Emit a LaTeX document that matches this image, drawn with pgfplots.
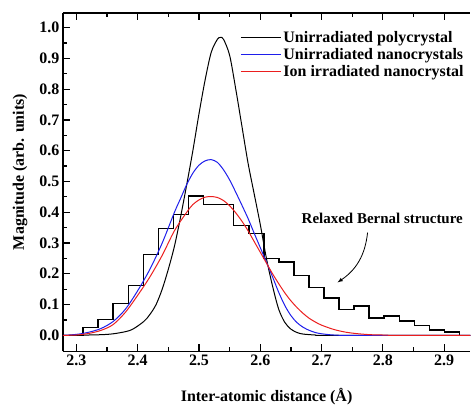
\documentclass[border=0pt]{standalone}
\usepackage{fontspec}
\setmainfont{Liberation Serif}
\usepackage{pgfplots}
\usepackage{pgfplotstable}
\pgfplotsset{compat=1.18}
\newcommand\lbl{\fontsize{16bp}{19bp}\selectfont\bfseries}
\definecolor{lred}{RGB}{235,30,30}
\definecolor{lblue}{RGB}{30,30,235}

% histogram: left bin edge, height
\pgfplotstableread{
x y
2.278 0
2.3110 0.025
2.3356 0.052
2.3601 0.104
2.3847 0.162
2.4092 0.263
2.4338 0.347
2.4584 0.393
2.4829 0.452
2.5075 0.425
2.5320 0.425
2.5566 0.357
2.5812 0.331
2.6057 0.249
2.6303 0.238
2.6548 0.195
2.6794 0.155
2.7040 0.122
2.7285 0.084
2.7531 0.095
2.7776 0.057
2.8022 0.063
2.8268 0.046
2.8513 0.032
2.8759 0.017
2.9004 0.011
2.9250 0
2.9425 0
}\histo

\begin{document}
\begin{tikzpicture}
\begin{axis}[
  scale only axis, width=408bp, height=339bp,
  xmin=2.278, xmax=2.9425, ymin=-0.052, ymax=1.048,
  axis x line*=box, axis y line*=left,
  axis line style={line width=1.5bp},
  clip=false,
  xtick={2.3,2.4,...,2.95}, minor x tick num=1,
  ytick={0,0.1,...,1.05}, minor y tick num=1,
  tick align=inside,
  major tick length=7bp, minor tick length=4bp,
  every tick/.style={black, line width=1.2bp},
  /pgf/number format/.cd, fixed, fixed zerofill, precision=1, assume math mode=true,
  /pgfplots/.cd,
  ticklabel style={font=\lbl},
  xlabel={Inter-atomic distance (Å)},
  ylabel={Magnitude (arb. units)},
  label style={font=\lbl},
  xlabel style={at={(0.5,-0.135)}, anchor=center},
  ylabel style={at={(-0.105,0.53)}, anchor=center},
  legend style={at={(0.427,0.958)}, anchor=north west, draw=none, fill=none,
    font=\lbl, row sep=0.5bp},
  legend cell align=left,
  legend image code/.code={\draw[mark repeat=2,mark phase=2,#1]
    plot coordinates {(0bp,0bp) (20bp,0bp) (40bp,0bp)};},
  legend image post style={line width=1.5bp},
]
\addplot[const plot, black, line width=1.5bp, forget plot] table {\histo};

\addplot[black, line width=1bp, smooth] coordinates {
(2.278,0) (2.32,0.001) (2.35,0.003) (2.37,0.008) (2.39,0.018) (2.41,0.045)
(2.42,0.068) (2.43,0.10) (2.44,0.15) (2.45,0.215) (2.46,0.29) (2.47,0.385)
(2.48,0.49) (2.49,0.60) (2.50,0.72) (2.51,0.83) (2.52,0.92) (2.53,0.962)
(2.535,0.968) (2.54,0.962) (2.55,0.91) (2.56,0.80) (2.57,0.68) (2.58,0.56)
(2.59,0.46) (2.60,0.36) (2.61,0.25) (2.62,0.16) (2.63,0.085) (2.64,0.042)
(2.65,0.020) (2.66,0.009) (2.67,0.004) (2.69,0.001) (2.71,0) (2.9425,0)
};
\addlegendentry{Unirradiated polycrystal}

\addplot[color=lblue, line width=1bp, smooth] coordinates {
(2.278,0) (2.30,0.003) (2.32,0.010) (2.34,0.022) (2.36,0.045) (2.38,0.085)
(2.40,0.145) (2.42,0.215) (2.44,0.300) (2.46,0.400) (2.47,0.445) (2.48,0.490)
(2.49,0.527) (2.50,0.553) (2.51,0.567) (2.52,0.571) (2.53,0.562) (2.54,0.538)
(2.55,0.505) (2.56,0.465) (2.57,0.423) (2.58,0.380) (2.59,0.332) (2.60,0.285)
(2.61,0.238) (2.62,0.190) (2.63,0.140) (2.64,0.097) (2.65,0.064) (2.66,0.041)
(2.67,0.026) (2.68,0.016) (2.69,0.009) (2.70,0.005) (2.72,0.001) (2.75,0)
(2.9425,0)
};
\addlegendentry{Unirradiated nanocrystals}

\addplot[color=lred, line width=1bp, smooth] coordinates {
(2.278,0) (2.30,0.001) (2.32,0.006) (2.34,0.016) (2.36,0.035) (2.38,0.075)
(2.40,0.130) (2.42,0.190) (2.44,0.260) (2.46,0.340) (2.48,0.400) (2.49,0.425)
(2.50,0.440) (2.51,0.449) (2.52,0.451) (2.53,0.448) (2.54,0.438) (2.55,0.421)
(2.56,0.398) (2.57,0.371) (2.58,0.340) (2.59,0.305) (2.60,0.270) (2.61,0.235)
(2.62,0.200) (2.63,0.168) (2.64,0.138) (2.65,0.112) (2.66,0.090) (2.67,0.071)
(2.68,0.055) (2.69,0.043) (2.70,0.033) (2.72,0.019) (2.74,0.010) (2.76,0.005)
(2.78,0.002) (2.80,0.001) (2.82,0) (2.9425,0)
};
\addlegendentry{Ion irradiated nanocrystal}

\node[font=\fontsize{15bp}{18bp}\selectfont\bfseries] at (axis cs:2.799,0.380) {Relaxed Bernal structure};
\draw[-latex, line width=0.8bp] (axis cs:2.775,0.334) to[bend left=25] (axis cs:2.726,0.172);

\path (rel axis cs:-0.1544,-0.156) rectangle (rel axis cs:1,1.038);
\end{axis}
\end{tikzpicture}
\end{document}
